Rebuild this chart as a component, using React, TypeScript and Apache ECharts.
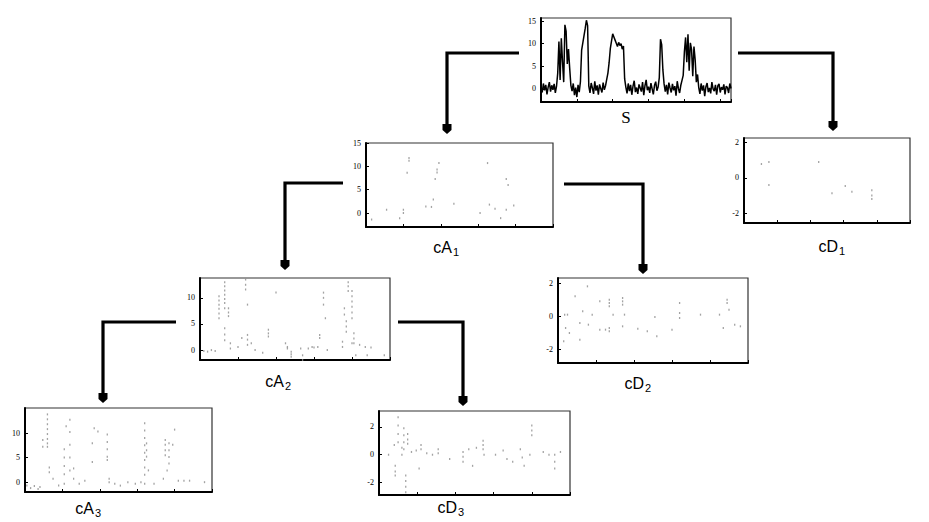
import React, { useEffect, useRef } from "react";
import * as echarts from "echarts";

// ---------- data ----------
const S_VALUES = [
  0.5, -0.8, 1.2, -0.3, 0.9, -1.2, 0.4, 1.5, -0.6, 0.8, -0.2, 1.1, -0.9, 0.6,
  3.5, 10.5, 2.0, 11.2, 6.0,
  1.5,
  14.2, 12.8,
  5.5, 8.8, 4.6,
  0.8, -0.5, 1.2, -1.4, 0.3, -1.8, 0.9, -0.7, 1.6,
  8.6, 10.2, 11.8, 13.4, 15.2, 14.0,
  0.6,
  -0.9, 1.3, 0.2, -1.1, 1.7, -0.4, 0.8, -1.3, 1.0, 0.1, -0.8, 1.4, -0.2, 0.7, 2.1, 3.5,
  5.8, 8.9, 10.6, 12.2, 11.5, 10.8, 10.1, 9.4, 10.3, 9.6, 10.0, 8.8, 9.5,
  2.2,
  0.4, -1.0, 1.2, -0.5, 0.9, -1.3, 0.6, 1.8, -0.7, 0.3, -1.1, 1.0, 0.2, -0.6, 1.5,
  -1.4, 0.7, 2.0, -0.3, 0.5, -0.9, 1.3, 0.0, -1.2, 0.8, 1.6, -0.4, 0.4, 2.5,
  11.0, 9.8, 4.2, 1.1,
  -0.6, 0.9, -1.2, 1.4, 0.2, -0.8, 1.1, -0.3, 0.6, -1.5, 1.7, 0.1, -0.9, 0.8, 1.9, 3.0,
  8.2, 11.4, 5.9, 12.1, 4.0, 10.2, 8.7, 2.8, 9.4, 6.5, 1.5, 3.2,
  0.3, -1.1, 1.2, -0.4, 0.8, -1.6, 0.5, 1.3, -0.7, 0.2, -1.0, 1.5, 0.0, -0.5,
  0.9, -1.3, 0.7, 1.1, -0.8, 0.4, -0.2, 1.0, -1.2, 0.6, 0.3, -0.9, 1.2, 0.1,
];

const CA1_POINTS = [
  [0.03, -1.4], [0.11, 0.7], [0.18, -1.1], [0.2, 0.7], [0.2, 0], [0.22, 8.6],
  [0.23, 11.8], [0.23, 11.2], [0.32, 1.4], [0.35, 1.3], [0.36, 2.9], [0.37, 7.3],
  [0.38, 9.3], [0.38, 8.7], [0.39, 10.7], [0.47, 2], [0.61, 0], [0.65, 10.7],
  [0.66, 1.8], [0.69, 0.9], [0.72, -1.1], [0.75, 0.7], [0.75, 7.3], [0.76, 6],
  [0.79, 1.6],
];

const CD1_POINTS = [
  [0.105, 0.78], [0.15, 0.9], [0.15, -0.4], [0.45, 0.9], [0.53, -0.87],
  [0.61, -0.46], [0.65, -0.78], [0.77, -0.7], [0.77, -1.0], [0.77, -1.2],
];

const CA2_POINTS = [
  [0.02, -0.2], [0.04, -0.3], [0.06, 0], [0.08, -0.2],
  [0.1, 10.3], [0.1, 9.5], [0.1, 8.7], [0.1, 7.9], [0.1, 7.0], [0.1, 6.1],
  [0.13, 13.0], [0.13, 12.2], [0.13, 11.4], [0.13, 10.6], [0.13, 9.8], [0.13, 9.0], [0.13, 8.0],
  [0.13, 4.2], [0.13, 3.0], [0.13, 1.9],
  [0.15, 8.0], [0.15, 7.2], [0.15, 6.5], [0.16, 1.3], [0.16, 0.3],
  [0.2, 0.6], [0.22, 2.3], [0.24, 13.5], [0.24, 12.5], [0.24, 11.6],
  [0.25, 8.7], [0.25, 2.9], [0.25, 2.0], [0.25, 1.0], [0.27, 1.3], [0.29, 0],
  [0.33, -0.5], [0.36, 3.9], [0.36, 3.2], [0.36, 2.6], [0.4, 11.0],
  [0.45, 1.3], [0.46, 0.6], [0.46, 0.3], [0.48, -0.3], [0.48, -0.8], [0.48, -1.3],
  [0.53, 0.3], [0.54, -1], [0.54, -1.9], [0.57, 0.3], [0.59, 0.6], [0.6, 0.5],
  [0.62, 0.6], [0.63, 2.9], [0.63, 2.3], [0.65, 11], [0.65, 10.0], [0.65, 8.7],
  [0.66, 6.1], [0.67, 0], [0.75, 1.6], [0.75, 0.6], [0.76, 8], [0.76, 6.8],
  [0.77, 5.5], [0.77, 4.5], [0.77, 3.5], [0.78, 13], [0.78, 12.2], [0.78, 11.3],
  [0.8, 11.3], [0.8, 10.3], [0.8, 9.3], [0.8, 8.3], [0.8, 7.2], [0.8, 6.1], [0.8, 1.3],
  [0.81, 3.2], [0.81, 2.2], [0.81, 1.3], [0.82, -1], [0.84, 1], [0.87, 0.6],
  [0.88, -1], [0.9, 0.5], [0.97, -1],
];

const CD2_POINTS = [
  [0.03, -1.5], [0.035, 0.1], [0.04, -0.7], [0.05, 0.1], [0.06, -1], [0.09, 1.2],
  [0.115, -0.4], [0.115, -1.4], [0.13, 0.3], [0.155, 1.8], [0.16, -0.5], [0.18, 0.1],
  [0.22, 0.9], [0.22, -0.8], [0.25, -0.8], [0.27, 1.0], [0.27, 0.8], [0.27, 0.6],
  [0.27, -0.7], [0.27, -0.9], [0.29, 0.1], [0.34, 1.1], [0.34, 0.9], [0.34, 0.7],
  [0.35, 0.1], [0.34, -0.6], [0.42, -0.74], [0.47, -0.9], [0.51, -0.04], [0.52, -1.2],
  [0.6, -0.8], [0.64, 0.8], [0.64, 0.2], [0.64, -0.1], [0.75, 0.1], [0.85, 0.1],
  [0.87, -0.7], [0.89, 1.0], [0.89, 0.8], [0.9, 0.4], [0.93, -0.5], [0.96, -0.6],
];

const CA3_POINTS = [
  [0.01, -0.7], [0.03, -1.2], [0.05, -0.8], [0.07, -1.4], [0.08, -1],
  [0.095, 8.6], [0.095, 7.2],
  [0.12, 13.8], [0.12, 12.8], [0.12, 11.8], [0.12, 10.8], [0.12, 9.8], [0.12, 8.8], [0.12, 7.9], [0.12, 7.2],
  [0.13, 3], [0.13, 2], [0.15, 0.7], [0.18, -0.7],
  [0.21, 6.7], [0.21, 5.0], [0.21, 3.3], [0.21, 1.6], [0.21, -0.3], [0.22, 11.4],
  [0.24, 12.7], [0.24, 10.2], [0.24, 7.6], [0.24, 5.0], [0.24, 2.4],
  [0.26, 2.8], [0.26, 0.7], [0.29, -0.3], [0.32, 0.3], [0.36, 4.1], [0.36, 7.9],
  [0.37, 11], [0.39, 10.3], [0.44, 9.7], [0.44, 8.2], [0.44, 6.7], [0.44, 5.2], [0.44, 4.5],
  [0.45, 0.7], [0.45, 0], [0.48, -0.3], [0.51, -0.7], [0.55, 0], [0.59, -0.3], [0.62, 0],
  [0.64, 12], [0.64, 10.5], [0.64, 9.0], [0.64, 7.5], [0.64, 6.0], [0.64, 4.5], [0.64, 3.0], [0.64, 1.5], [0.64, -0.3],
  [0.65, 7.9], [0.65, 6.5], [0.65, 5.2], [0.66, 2.4], [0.69, -0.3], [0.74, 0.7],
  [0.75, 8.6], [0.75, 7.6], [0.75, 6.5], [0.75, 5.5], [0.76, 2.4],
  [0.77, 7.9], [0.77, 6.5], [0.77, 5.1], [0.77, 3.8], [0.79, 7.6], [0.8, 10.7],
  [0.82, 0.3], [0.85, 0.3], [0.88, 0.3], [0.96, 0],
];

const CD3_POINTS = [
  [0.05, 0], [0.08, 0.7], [0.085, -0.8], [0.085, -1.2], [0.085, -1.5], [0.1, 2.7],
  [0.1, 2.1], [0.1, 1.5], [0.1, 0.9], [0.12, 0.5], [0.12, 0], [0.13, 1.9], [0.13, 1.4],
  [0.13, 0.9], [0.13, 0.4], [0.14, -1.5], [0.14, -1.9], [0.14, -2.3], [0.14, -2.7],
  [0.15, 1.5], [0.15, 1.1], [0.15, 0.8], [0.17, 0.2], [0.195, 0.3], [0.21, -1],
  [0.22, 0.7], [0.22, 0.4], [0.25, 0.1], [0.28, 0], [0.31, 0.4], [0.31, 0.1],
  [0.37, -0.3], [0.44, 0.2], [0.44, -0.15], [0.44, -0.5], [0.47, 0.4], [0.49, -0.8],
  [0.51, 0.5], [0.545, 1.0], [0.545, 0.7], [0.545, 0.4], [0.55, 0], [0.61, 0],
  [0.65, 0.3], [0.67, -0.3], [0.7, -0.5], [0.74, 0.4], [0.75, -0.2], [0.76, -0.8],
  [0.79, 0], [0.8, 2.1], [0.8, 1.75], [0.8, 1.4], [0.86, 0.2], [0.89, 0],
  [0.92, 0], [0.92, -0.5], [0.92, -1], [0.95, 0.2],
];

const TICKS_A_S = [0, 5, 10, 15];
const TICKS_A_2 = [0, 5, 10];
const TICKS_D = [-2, 0, 2];

// ---------- layout ----------
const PANELS = [
  { name: "S", left: 541, top: 18, width: 190, height: 84, yMin: -2.9, yMax: 15.7, ticks: TICKS_A_S, xMax: S_VALUES.length - 1 },
  { name: "cA1", left: 366, top: 143, width: 187, height: 84, yMin: -3, yMax: 15, ticks: TICKS_A_S, xMax: 1 },
  { name: "cD1", left: 744, top: 138, width: 166, height: 85, yMin: -2.55, yMax: 2.25, ticks: TICKS_D, xMax: 1 },
  { name: "cA2", left: 200, top: 278, width: 190, height: 82, yMin: -1.9, yMax: 13.8, ticks: TICKS_A_2, xMax: 1 },
  { name: "cD2", left: 558, top: 278, width: 190, height: 85, yMin: -2.8, yMax: 2.3, ticks: TICKS_D, xMax: 1 },
  { name: "cA3", left: 25, top: 408, width: 187, height: 84, yMin: -2, yMax: 15.1, ticks: TICKS_A_2, xMax: 1 },
  { name: "cD3", left: 379, top: 411, width: 191, height: 84, yMin: -2.9, yMax: 3.15, ticks: TICKS_D, xMax: 1 },
];

const SCATTER_DATA = [null, CA1_POINTS, CD1_POINTS, CA2_POINTS, CD2_POINTS, CA3_POINTS, CD3_POINTS];

// labels: [main, sub, junction x, y]
const LABELS: [string, string, number, number][] = [
  ["S", "", 626, 117],
  ["cA", "1", 452, 247],
  ["cD", "1", 838, 246],
  ["cA", "2", 284, 381],
  ["cD", "2", 644, 383],
  ["cA", "3", 94, 508],
  ["cD", "3", 457, 507],
];

// arrows: polyline points, last is arrow tip
const ARROWS: number[][][] = [
  [[519, 53], [447, 53], [447, 134]],
  [[738, 53], [833, 53], [833, 131]],
  [[343, 183], [285, 183], [285, 270]],
  [[564, 184], [643, 184], [643, 274]],
  [[176, 322], [103, 322], [103, 403]],
  [[398, 322], [463, 322], [463, 406]],
];

const AXIS_FONT = "'Liberation Serif', 'DejaVu Serif', serif";
const LABEL_FONT = "'Liberation Sans', Arial, sans-serif";

export default function App() {
  const ref = useRef<HTMLDivElement>(null);

  useEffect(() => {
    if (!ref.current) return;
    const chart = echarts.init(ref.current, undefined, { renderer: "svg" });

    const grids: any[] = [];
    const xAxes: any[] = [];
    const yAxes: any[] = [];
    const series: any[] = [];

    PANELS.forEach((p, i) => {
      grids.push({
        left: p.left, top: p.top, width: p.width, height: p.height,
        show: true, borderColor: "#333", borderWidth: 1.2, backgroundColor: "#fff",
      });
      xAxes.push({
        gridIndex: i, type: "value", min: 0, max: p.xMax,
        axisLine: { show: true, onZero: false, lineStyle: { color: "#000", width: 2 } },
        axisTick: { show: true, inside: true, length: 3, lineStyle: { color: "#000", width: 1 } },
        axisLabel: { show: false }, splitLine: { show: false },
      });
      yAxes.push({
        gridIndex: i, type: "value", min: p.yMin, max: p.yMax,
        axisLine: { show: true, onZero: false, lineStyle: { color: "#000", width: 2 } },
        axisTick: { show: true, inside: true, length: 3, customValues: p.ticks, lineStyle: { color: "#000", width: 1 } },
        axisLabel: {
          show: true, customValues: p.ticks, fontSize: 8, color: "#000", margin: 5,
          fontFamily: AXIS_FONT,
        },
        splitLine: { show: false },
      });
      if (i === 0) {
        series.push({
          type: "line", xAxisIndex: i, yAxisIndex: i,
          data: S_VALUES.map((v, k) => [k, v]),
          showSymbol: false, lineStyle: { color: "#000", width: 1.5 },
        });
      } else {
        series.push({
          type: "scatter", xAxisIndex: i, yAxisIndex: i,
          data: SCATTER_DATA[i],
          symbol: "rect", symbolSize: [1.3, 2],
          itemStyle: { color: "#8c8c8c" },
        });
      }
    });

    const graphics: any[] = [];
    ARROWS.forEach((pts) => {
      const tip = pts[pts.length - 1];
      const shaftEnd = [tip[0], tip[1] - 8];
      graphics.push({
        type: "polyline",
        shape: { points: [...pts.slice(0, -1), shaftEnd] },
        style: { stroke: "#000", lineWidth: 3.2, fill: null },
        z: 10,
      });
      graphics.push({
        type: "polygon",
        shape: {
          points: [
            [tip[0] - 4.5, tip[1] - 10], [tip[0] + 4.5, tip[1] - 10],
            [tip[0] + 4.5, tip[1] - 4], [tip[0], tip[1]], [tip[0] - 4.5, tip[1] - 4],
          ],
        },
        style: { fill: "#000" },
        z: 10,
      });
    });

    LABELS.forEach(([main, sub, x, y]) => {
      if (!sub) {
        graphics.push({
          type: "text", x, y,
          style: { text: main, fontSize: 17, fontFamily: "'Liberation Serif', serif", fill: "#000", align: "center", verticalAlign: "middle" },
        });
      } else {
        graphics.push({
          type: "text", x, y,
          style: { text: main, fontSize: 16, fontFamily: LABEL_FONT, fill: "#000", align: "right", verticalAlign: "middle" },
        });
        graphics.push({
          type: "text", x: x + 1, y: y + 5,
          style: { text: sub, fontSize: 11, fontFamily: LABEL_FONT, fill: "#000", align: "left", verticalAlign: "middle" },
        });
      }
    });

    chart.setOption({
      animation: false,
      backgroundColor: "#fff",
      grid: grids,
      xAxis: xAxes,
      yAxis: yAxes,
      series,
      graphic: graphics,
    });

    return () => chart.dispose();
  }, []);

  return (
    <div
      ref={ref}
      style={{ position: "absolute", left: 0, top: 0, width: 929, height: 522, background: "#fff" }}
    />
  );
}
